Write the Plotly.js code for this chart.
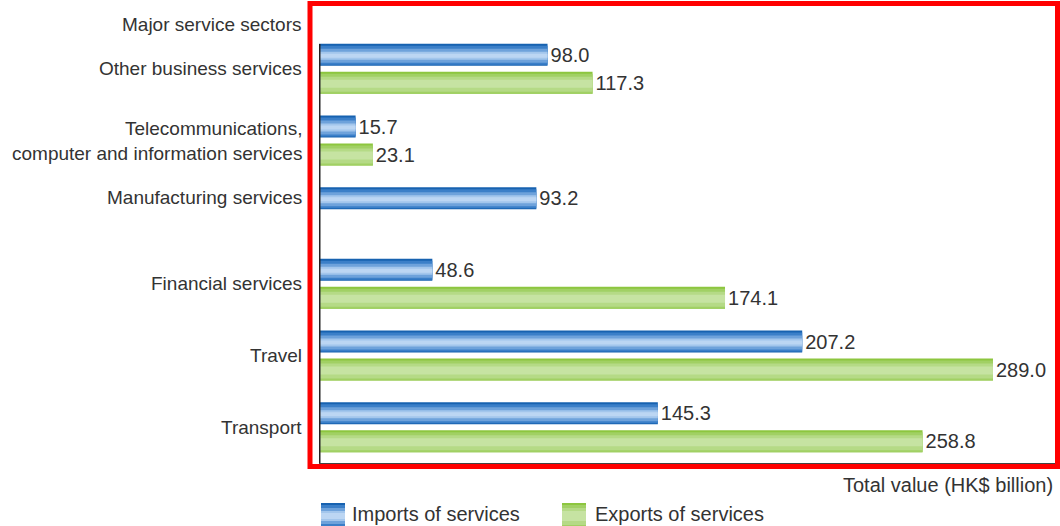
<!DOCTYPE html>
<html>
<head>
<meta charset="utf-8">
<script src="https://cdn.plot.ly/plotly-3.0.1.min.js"></script>
<style>html,body{margin:0;padding:0;background:#fff;}#chart{width:1060px;height:526px;}</style>
</head>
<body>
<div id="chart"></div>
<script>
// ---- data ----
const categories = [
  "Other business services",
  "Telecommunications, computer and information services",
  "Manufacturing services",
  "Financial services",
  "Travel",
  "Transport"
];
const categoryLabels = [
  "Other business services",
  "Telecommunications,<br>computer and information services",
  "Manufacturing services",
  "Financial services",
  "Travel",
  "Transport"
];
const importsValues = [98.0, 15.7, 93.2, 48.6, 207.2, 145.3];
const exportsValues = [117.3, 23.1, null, 174.1, 289.0, 258.8];
const seriesNames = ["Imports of services", "Exports of services"];
const axisTitle = "Total value (HK$ billion)";
const sectorHeader = "Major service sectors";

// ---- layout helpers ----
const W = 1060, H = 526;
const M = {l: 319, r: 5, t: 33, b: 63};
const plotH = H - M.t - M.b;
const catPx = plotH / categories.length;
const FONT = '"Liberation Sans", Arial, sans-serif';
const TXT = '#333333';

function layer(vals, name, topPx, hPx, color, withText) {
  const t = {
    type: 'bar', orientation: 'h', name: name,
    x: vals, y: categories,
    offset: topPx / catPx, width: hPx / catPx,
    marker: {color: color, line: {width: 0}},
    hoverinfo: 'skip', showlegend: false, cliponaxis: false
  };
  if (withText) {
    t.text = vals.map(v => v == null ? '' : v.toFixed(1));
    t.textposition = 'outside';
    t.textfont = {family: FONT, size: 20, color: TXT};
    t.constraintext = 'none';
  }
  return t;
}

const impTop = -25, expTop = 3;
const blueLayers = [[0, 22, '#1762b0'], [2, 19, '#3b7fc8'], [5, 14, '#6ea2db'], [8, 8, '#a3c6ec'], [10, 4, '#bcd6f3']];
const greenLayers = [[0, 22, '#8dc63f'], [2, 20, '#a1d064'], [5, 15, '#b5da86'], [8, 8, '#c6e3a2']];

const traces = [];
blueLayers.forEach((l, i) => traces.push(layer(importsValues, seriesNames[0], impTop + l[0], l[1], l[2], i === 0)));
greenLayers.forEach((l, i) => traces.push(layer(exportsValues, seriesNames[1], expTop + l[0], l[1], l[2], i === 0)));

// category labels as annotations
const labelShift = {"Manufacturing services": 14.5};
const annotations = categories.map((c, i) => ({
  xref: 'paper', yref: 'y', x: 0, y: c, xanchor: 'right', yanchor: 'middle',
  xshift: -15, yshift: labelShift[c] || 0, align: 'right', showarrow: false,
  text: categoryLabels[i], font: {family: FONT, size: 19, color: TXT}
}));
const py = px => (H - M.b - px) / plotH;      // pixel y -> paper y
const pxx = px => (px - M.l) / (W - M.l - M.r); // pixel x -> paper x
annotations.push({xref: 'paper', yref: 'paper', x: 0, y: py(24), xanchor: 'right', yanchor: 'middle', xshift: -15,
  showarrow: false, text: sectorHeader, font: {family: FONT, size: 19, color: TXT}});
annotations.push({xref: 'paper', yref: 'paper', x: 1, y: py(485), xanchor: 'right', yanchor: 'middle',
  showarrow: false, text: axisTitle, font: {family: FONT, size: 20, color: TXT}});

// legend (drawn manually)
const shapes = [];
const legendItems = [
  {x: 321, tx: 350, layers: blueLayers, name: seriesNames[0]},
  {x: 562, tx: 593, layers: greenLayers, name: seriesNames[1]}
];
legendItems.forEach(it => {
  it.layers.forEach(l => {
    shapes.push({type: 'rect', xref: 'paper', yref: 'paper', x0: pxx(it.x), x1: pxx(it.x + 24),
      y0: py(503 + l[0]), y1: py(503 + l[0] + l[1] + 2), fillcolor: l[2], line: {width: 0}, layer: 'above'});
  });
  annotations.push({xref: 'paper', yref: 'paper', x: pxx(it.tx), y: py(514), xanchor: 'left', yanchor: 'middle',
    showarrow: false, text: it.name, font: {family: FONT, size: 20, color: TXT}});
});

// y axis line (starts at the first bar)
shapes.push({type: 'line', xref: 'x', yref: 'paper', x0: 0, x1: 0, y0: 0, y1: py(44),
  line: {color: '#222222', width: 3}, layer: 'above'});
// red highlight frame
shapes.push({type: 'rect', xref: 'paper', yref: 'paper', x0: pxx(310), x1: pxx(1057.5), y0: py(466.5), y1: py(3.5),
  line: {color: '#ff0000', width: 5}, fillcolor: 'rgba(0,0,0,0)', layer: 'above'});

const layout = {
  width: W, height: H,
  margin: M,
  paper_bgcolor: '#ffffff', plot_bgcolor: '#ffffff',
  barmode: 'overlay',
  showlegend: false,
  font: {family: FONT, color: TXT},
  xaxis: {range: [0, 315.6], showgrid: false, zeroline: false, showticklabels: false, ticks: '',
    showline: true, linecolor: '#444444', linewidth: 2, fixedrange: true},
  yaxis: {type: 'category', autorange: 'reversed', showgrid: false, zeroline: false, showticklabels: false,
    ticks: '', showline: false, fixedrange: true},
  annotations: annotations,
  shapes: shapes
};

Plotly.newPlot('chart', traces, layout, {displayModeBar: false, staticPlot: true});
</script>
</body>
</html>
